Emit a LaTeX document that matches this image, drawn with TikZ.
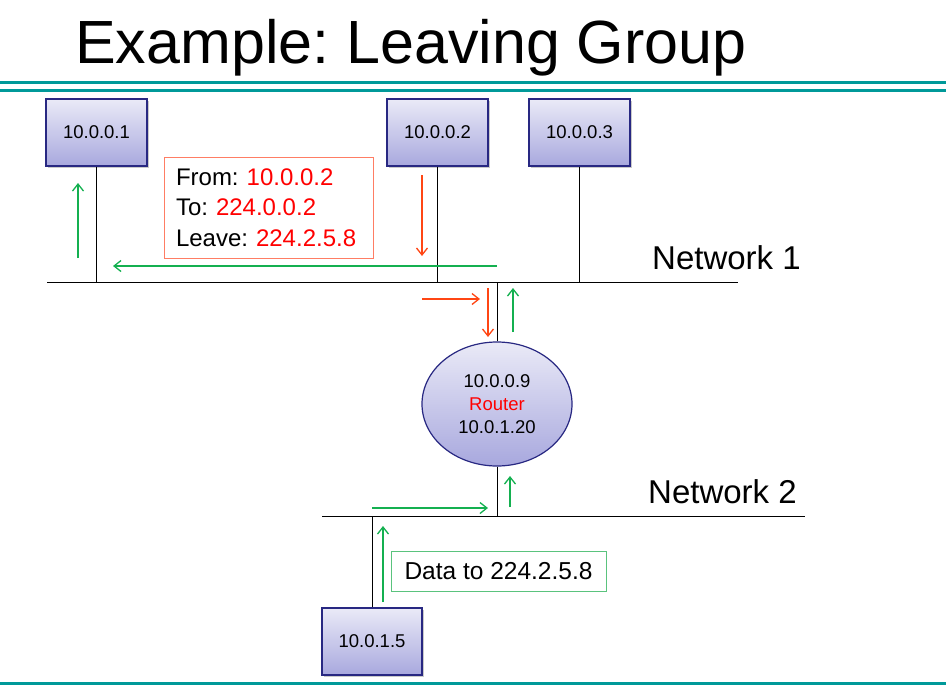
\documentclass[tikz,border=0pt]{standalone}
\usepackage{fontspec}
\setmainfont{Liberation Sans}
\frenchspacing
\usetikzlibrary{arrows.meta,shapes.geometric,shadows}
\definecolor{teal1}{RGB}{0,153,153}
\definecolor{navy1}{RGB}{40,40,130}
\definecolor{boxtop}{RGB}{234,234,247}
\definecolor{boxbot}{RGB}{168,168,222}
\definecolor{grn}{RGB}{20,176,80}
\definecolor{grnbox}{RGB}{90,195,125}
\definecolor{redarr}{RGB}{255,70,20}
\definecolor{redbox}{RGB}{255,125,100}
\definecolor{redtxt}{RGB}{255,0,0}
\tikzset{
  host/.style={draw=navy1, line width=1.2pt, top color=boxtop, bottom color=boxbot,
    minimum width=101pt, minimum height=67pt, inner sep=0pt,
    font=\fontsize{18.5}{22}\selectfont,
    drop shadow={shadow xshift=1.5pt, shadow yshift=-1.5pt, opacity=0.35, fill=black!60}},
  routerstyle/.style={ellipse, draw=navy1, line width=1.2pt, top color=boxtop, bottom color=boxbot,
    minimum width=150pt, minimum height=124pt, inner sep=0pt, align=center,
    font=\fontsize{18.5}{23}\selectfont},
  wire/.style={draw=black, line width=1pt},
  garrow/.style={draw=grn, line width=1.3pt, -{Straight Barb[length=7pt,width=11pt,line width=1.3pt]}},
  rarrow/.style={draw=redarr, line width=1.3pt, -{Straight Barb[length=7pt,width=11pt,line width=1.3pt]}},
  netlabel/.style={anchor=west, font=\fontsize{33}{36}\selectfont, inner sep=0pt},
  rule/.style={draw=teal1, line width=2.2pt}
}
\begin{document}
\begin{tikzpicture}[x=1pt,y=-1pt]
\useasboundingbox (0,0) rectangle (946,694);
% title
\node[anchor=base west, inner sep=0pt, font=\fontsize{61}{70}\selectfont] (title) at (75,63) {Example: Leaving Group};
% rules
\coordinate (r1w) at (0,82.5); \coordinate (r1e) at (946,82.5);
\coordinate (r2w) at (0,90.5); \coordinate (r2e) at (946,90.5);
\coordinate (r3w) at (0,683.5); \coordinate (r3e) at (946,683.5);
\draw[rule] (r1w) -- (r1e);
\draw[rule] (r2w) -- (r2e);
\draw[rule] (r3w) -- (r3e);
% networks
\coordinate (n1w) at (47,282); \coordinate (n1e) at (738,282);
\coordinate (n2w) at (322,516); \coordinate (n2e) at (805,516);
\draw[wire] (n1w) -- (n1e);
\draw[wire] (n2w) -- (n2e);
\node[netlabel] (net1) at (652,258) {Network 1};
\node[netlabel] (net2) at (648,492) {Network 2};
% hosts
\node[host] (h1) at (96.5,132.5) {10.0.0.1};
\node[host] (h2) at (437.5,132.5) {10.0.0.2};
\node[host] (h3) at (579.5,132.5) {10.0.0.3};
\node[host, minimum width=100pt] (h5) at (372,641.5) {10.0.1.5};
\draw[wire] (h1.south) -- (h1.south |- n1w);
\draw[wire] (h2.south) -- (h2.south |- n1w);
\draw[wire] (h3.south) -- (h3.south |- n1w);
\draw[wire] (h5.north) -- (h5.north |- n2w);
% router
\node[routerstyle] (rt) at (497,404) {10.0.0.9\\\textcolor{redtxt}{Router}\\10.0.1.20};
\draw[wire] (rt.north) -- (rt.north |- n1w);
\draw[wire] (rt.south) -- (rt.south |- n2w);
% message boxes
\node[draw=redbox, line width=1pt, minimum width=209pt, minimum height=101pt, inner xsep=12pt,
  text width=185pt, align=left, font=\fontsize{24}{30.5}\selectfont] (msg) at (268.5,207.5)
  {From: \textcolor{redtxt}{10.0.0.2}\\To: \textcolor{redtxt}{224.0.0.2}\\Leave: \textcolor{redtxt}{224.2.5.8}};
\node[draw=grnbox, line width=1pt, minimum width=215pt, minimum height=40pt, inner sep=0pt,
  font=\fontsize{24.5}{28}\selectfont] (data) at (498.5,571) {Data to 224.2.5.8};
% arrows
\coordinate (a1s) at (78,258); \coordinate (a1e) at (78,183);
\draw[garrow] (a1s) -- (a1e);
\coordinate (a2s) at (422,175); \coordinate (a2e) at (422,256);
\draw[rarrow] (a2s) -- (a2e);
\coordinate (a3s) at (497,266); \coordinate (a3e) at (113,266);
\draw[garrow] (a3s) -- (a3e);
\coordinate (a4s) at (422,299); \coordinate (a4e) at (480,299);
\draw[rarrow] (a4s) -- (a4e);
\coordinate (a5s) at (488,288); \coordinate (a5e) at (488,337);
\draw[rarrow] (a5s) -- (a5e);
\coordinate (a6s) at (513,332); \coordinate (a6e) at (513,288);
\draw[garrow] (a6s) -- (a6e);
\coordinate (a7s) at (510,507); \coordinate (a7e) at (510,476);
\draw[garrow] (a7s) -- (a7e);
\coordinate (a8s) at (372,508); \coordinate (a8e) at (488,508);
\draw[garrow] (a8s) -- (a8e);
\coordinate (a9s) at (383,602); \coordinate (a9e) at (383,526);
\draw[garrow] (a9s) -- (a9e);
\end{tikzpicture}
\end{document}
